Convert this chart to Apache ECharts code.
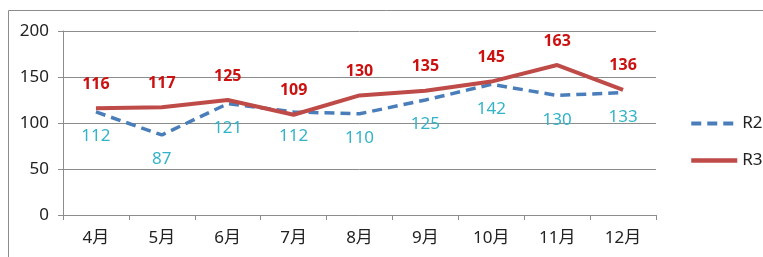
<!DOCTYPE html>
<html>
<head>
<meta charset="utf-8">
<script src="https://cdn.jsdelivr.net/npm/echarts@6/dist/echarts.min.js"></script>
<style>
  html, body { margin: 0; padding: 0; background: #fff; }
  #chart { width: 763px; height: 257px; }
</style>
</head>
<body>
<div id="chart"></div>
<script>
// 月份 + 两条线的数据
let months = ['4月', '5月', '6月', '7月', '8月', '9月', '10月', '11月', '12月'];
let r2Values = [112, 87, 121, 112, 110, 125, 142, 130, 133];
let r3Values = [116, 117, 125, 109, 130, 135, 145, 163, 136];
let yTicks = { min: 0, max: 200, interval: 50 };

let chart = echarts.init(document.getElementById('chart'));
let font = '"Noto Sans", "Noto Sans CJK SC", sans-serif';

let option = {
    animation: false,
    textStyle: { fontFamily: font },
    graphic: [{
        type: 'rect',
        shape: { x: 8.5, y: 10.5, width: 800, height: 300 },
        style: { fill: 'none', stroke: '#8c8c8c', lineWidth: 1 },
        silent: true
    }],
    grid: {
        left: 63,
        right: 107,
        top: 31,
        bottom: 42
    },
    legend: {
        orient: 'vertical',
        left: 684,
        top: 110,
        itemWidth: 46,
        itemHeight: 14,
        itemGap: 20,
        itemStyle: { opacity: 0 },
        textStyle: { fontSize: 17, color: '#222', fontFamily: font },
        data: [
            { name: 'R2', lineStyle: { width: 4, type: [10, 6] } },
            { name: 'R3', lineStyle: { width: 4.5 } }
        ]
    },
    xAxis: {
        type: 'category',
        data: months,
        boundaryGap: true,
        axisLine: { lineStyle: { color: '#8c8c8c' } },
        axisTick: { show: true, length: 5, lineStyle: { color: '#8c8c8c' } },
        axisLabel: { color: '#222', fontSize: 17, margin: 15 }
    },
    yAxis: {
        type: 'value',
        min: yTicks.min,
        max: yTicks.max,
        interval: yTicks.interval,
        axisLine: { show: true, lineStyle: { color: '#8c8c8c' } },
        axisTick: { show: true, length: 5, lineStyle: { color: '#8c8c8c' } },
        axisLabel: { color: '#222', fontSize: 17, margin: 14 },
        splitLine: { lineStyle: { color: '#8c8c8c', width: 1 } }
    },
    series: [{
        name: 'R2',
        type: 'line',
        data: r2Values,
        symbol: 'circle',
        symbolSize: 0,
        lineStyle: { color: '#4a7ebb', width: 3.5, type: [10, 6] },
        itemStyle: { color: '#4a7ebb' },
        label: {
            show: true,
            position: 'bottom',
            distance: 16,
            color: '#33b3c8',
            fontSize: 17
        }
    }, {
        name: 'R3',
        type: 'line',
        data: r3Values,
        symbol: 'circle',
        symbolSize: 0,
        lineStyle: { color: '#be4b48', width: 4 },
        itemStyle: { color: '#be4b48' },
        label: {
            show: true,
            position: 'top',
            distance: 16,
            color: '#cc1111',
            fontWeight: 'bold',
            fontSize: 16
        }
    }]
};

chart.setOption(option);
</script>
</body>
</html>
